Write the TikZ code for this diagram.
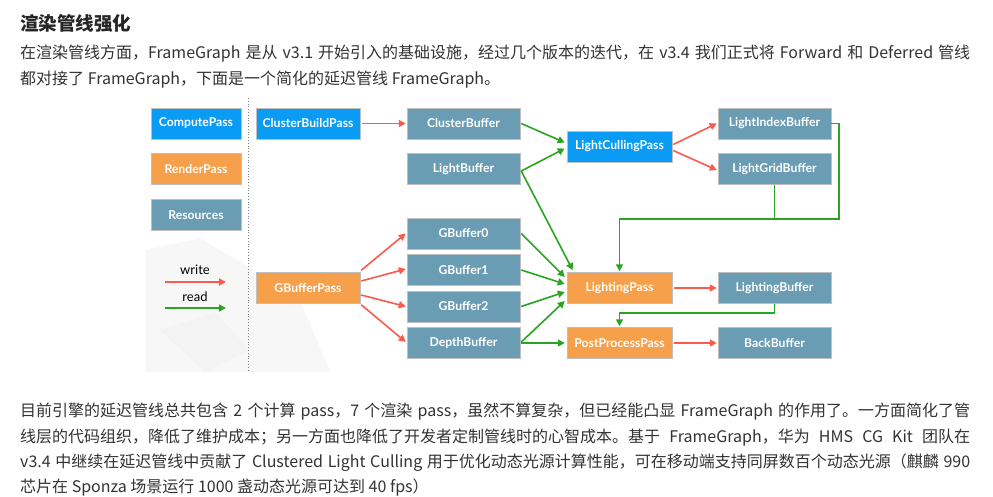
\documentclass[tikz,border=0pt]{standalone}
\usepackage{fontspec}
\setmainfont{Noto Sans CJK SC}
\newfontfamily\boxfont{Lato}
\usetikzlibrary{arrows.meta,calc}
\definecolor{cblue}{HTML}{0A9BF5}
\definecolor{corange}{HTML}{F7A04B}
\definecolor{cres}{HTML}{6A9DB4}
\definecolor{cred}{HTML}{FB5A4C}
\definecolor{cgreen}{HTML}{2AA521}
\definecolor{ctext}{HTML}{333333}
\definecolor{cbg}{HTML}{F7F7F7}
\definecolor{cbg2}{HTML}{F3F3F3}
\tikzset{
  bx/.style={minimum height=31pt, inner sep=0pt, draw=white!75!black, line width=0.5pt,
    text=white, font=\boxfont\bfseries\fontsize{12.2}{14}\selectfont},
  cp/.style={bx, fill=cblue},
  rp/.style={bx, fill=corange},
  rs/.style={bx, fill=cres},
  wr/.style={draw=cred, line width=1.6pt, -{Triangle[length=7pt,width=7pt]}},
  rd/.style={draw=cgreen, line width=1.6pt, -{Triangle[length=7pt,width=7pt]}},
  para/.style={anchor=base west, inner sep=0pt, text=ctext, font=\fontsize{16}{20}\selectfont},
}
\begin{document}
\begin{tikzpicture}[x=1pt,y=-1pt]
\useasboundingbox (0,0) rectangle (993,496);
\fill[white] (0,0) rectangle (993,496);
% faint background shapes
\fill[cbg] (146,250) -- (200,238) -- (240,262) -- (300,300) -- (330,372) -- (146,372) -- cycle;
\fill[cbg2] (160,330) -- (215,312) -- (250,350) -- (205,372) -- cycle;
% texts
\node[para, font=\bfseries\fontsize{18.5}{22}\selectfont, text=black!85] (title) at (20,30) {渲染管线强化};
\node[para] (p1) at (20,58) {\makebox[950pt][s]{在渲染管线方面，FrameGraph 是从 v3.1 开始引入的基础设施，经过几个版本的迭代，在 v3.4 我们正式将 Forward 和 Deferred 管线}};
\node[para] (p2) at (20,84) {都对接了 FrameGraph，下面是一个简化的延迟管线 FrameGraph。};
\node[para] (q1) at (20,416) {\makebox[950pt][s]{目前引擎的延迟管线总共包含 2 个计算 pass，7 个渲染 pass，虽然不算复杂，但已经能凸显 FrameGraph 的作用了。一方面简化了管}};
\node[para] (q2) at (20,442) {\makebox[950pt][s]{线层的代码组织，降低了维护成本；另一方面也降低了开发者定制管线时的心智成本。基于 FrameGraph，华为 HMS CG Kit 团队在}};
\node[para] (q3) at (20,467) {\makebox[950pt][s]{v3.4 中继续在延迟管线中贡献了 Clustered Light Culling 用于优化动态光源计算性能，可在移动端支持同屏数百个动态光源（麒麟 990}};
\node[para] (q4) at (20,492) {芯片在 Sponza 场景运行 1000 盏动态光源可达到 40 fps）};
% legend
\node[cp, minimum width=90pt] (lcomp) at (196,123.5) {ComputePass};
\node[rp, minimum width=90pt] (lrend) at (196,169) {RenderPass};
\node[rs, minimum width=90pt] (lres) at (196,215) {Resources};
\node[font=\boxfont\fontsize{13}{15}\selectfont, inner sep=0pt] (lwrite) at (195,270) {write};
\node[font=\boxfont\fontsize{13}{15}\selectfont, inner sep=0pt] (lread) at (195,297) {read};
\coordinate (w1) at (165,282); \coordinate (w2) at (226,282);
\coordinate (r1) at (165,308); \coordinate (r2) at (226,308);
\draw[wr] (w1) -- (w2);
\draw[rd] (r1) -- (r2);
\coordinate (d1) at (248,98); \coordinate (d2) at (248,372);
\draw[gray, dotted, line width=0.8pt] (d1) -- (d2);
% nodes
\node[cp, minimum width=104pt] (cbp) at (308,123.5) {ClusterBuildPass};
\node[rp, minimum width=104pt] (gbp) at (308,288) {GBufferPass};
\node[rs, minimum width=113pt] (cb) at (463.5,123.5) {ClusterBuffer};
\node[rs, minimum width=113pt] (lb) at (463.5,169) {LightBuffer};
\node[rs, minimum width=113pt] (gb0) at (463.5,233.5) {GBuffer0};
\node[rs, minimum width=113pt] (gb1) at (463.5,270) {GBuffer1};
\node[rs, minimum width=113pt] (gb2) at (463.5,306.5) {GBuffer2};
\node[rs, minimum width=113pt] (db) at (463.5,343) {DepthBuffer};
\node[cp, minimum width=105pt] (lcp) at (619.5,146.5) {LightCullingPass};
\node[rp, minimum width=105pt] (lp) at (619.5,288) {LightingPass};
\node[rp, minimum width=105pt] (ppp) at (619.5,343) {PostProcessPass};
\node[rs, minimum width=113pt] (lib) at (774.5,123.5) {LightIndexBuffer};
\node[rs, minimum width=113pt] (lgb) at (774.5,169) {LightGridBuffer};
\node[rs, minimum width=113pt] (lbuf) at (774.5,288) {LightingBuffer};
\node[rs, minimum width=113pt] (bb) at (774.5,343) {BackBuffer};
% write arrows
\draw[wr, shorten <=2pt, shorten >=1pt] (cbp.east) -- (cb.west);
\draw[wr] ($(gbp.north east)+(1,-2)$) -- ($(gb0.west)+(-1,0)$);
\draw[wr] ($(gbp.east)+(1,-7)$) -- ($(gb1.west)+(-1,-1)$);
\draw[wr] ($(gbp.east)+(1,7)$) -- ($(gb2.west)+(-1,0)$);
\draw[wr] ($(gbp.south east)+(1,1)$) -- ($(db.west)+(-1,-1)$);
\draw[wr] ($(lcp.east)+(1,-2)$) -- ($(lib.west)+(-1,0)$);
\draw[wr] ($(lcp.east)+(1,4)$) -- ($(lgb.west)+(-1,1)$);
\draw[wr, shorten <=2pt, shorten >=1pt] (lp.east) -- (lbuf.west);
\draw[wr, shorten <=2pt, shorten >=1pt] (ppp.east) -- (bb.west);
% read arrows
\draw[rd] ($(cb.east)+(1,0)$) -- ($(lcp.west)+(-2,-4)$);
\draw[rd] ($(lb.east)+(1,2)$) -- ($(lcp.west)+(-2,2)$);
\draw[rd] ($(lb.east)+(1,2)$) -- ($(lp.north west)+(6,-2)$);
\draw[rd] ($(gb0.east)+(1,0)$) -- ($(lp.west)+(-2,-11)$);
\draw[rd] ($(gb1.east)+(1,0)$) -- ($(lp.west)+(-2,-4)$);
\draw[rd] ($(gb2.east)+(1,0)$) -- ($(lp.west)+(-2,4)$);
\draw[rd] ($(db.east)+(1,-1)$) -- ($(lp.west)+(-2,13)$);
\draw[rd, shorten <=1pt, shorten >=2pt] (db.east) -- (ppp.west);
\coordinate (j1) at (839,219);
\draw[rd] (lib.east) -| (j1) -| ($(lp.north)+(0,-1)$);
\draw[draw=cgreen, line width=1.6pt] (lgb.south) -- (lgb.south |- j1);
\coordinate (j2) at (774.5,313);
\draw[rd] (lbuf.south) -- (j2) -| ($(ppp.north)+(0,-1)$);
\end{tikzpicture}
\end{document}
